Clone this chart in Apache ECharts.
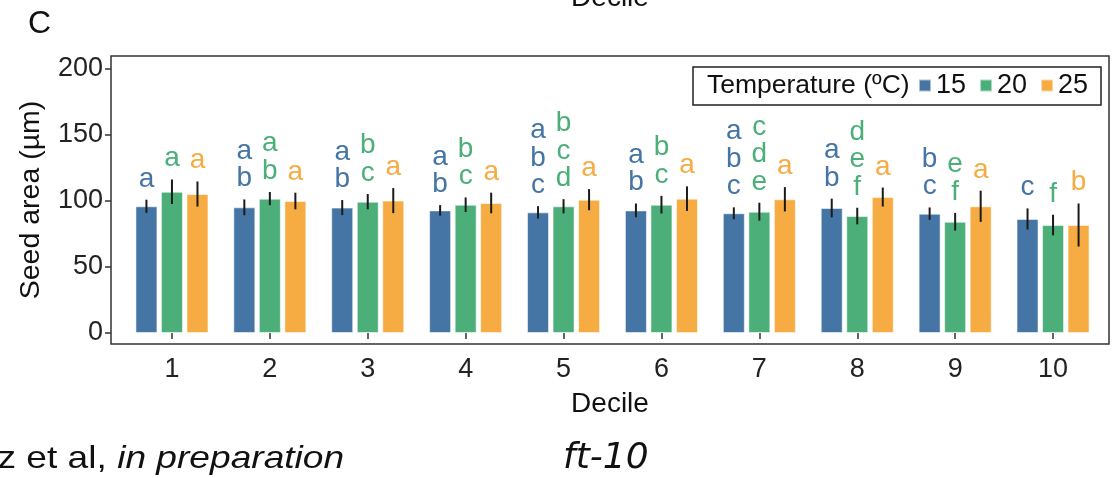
<!DOCTYPE html>
<html>
<head>
<meta charset="utf-8">
<script src="https://cdn.jsdelivr.net/npm/echarts@6/dist/echarts.min.js"></script>
<style>html,body{margin:0;padding:0;background:#fff;}#c{width:1116px;height:478px;}</style>
</head>
<body>
<div id="c"></div>
<script>
var categories = ['1','2','3','4','5','6','7','8','9','10'];
var yTicks = [0, 50, 100, 150, 200];
var mean15 = [96, 95.2, 95, 92.9, 91.4, 92.9, 90.7, 94.7, 90.4, 86.4];
var err15  = [5, 6, 5.7, 4, 4.7, 5.2, 4.5, 7.1, 4.7, 8];
var mean20 = [107, 101.8, 99.5, 97.2, 96, 97.2, 91.9, 88.6, 84.3, 81.8];
var err20  = [9.3, 5, 5.8, 5.5, 5.4, 6.7, 6.8, 6.3, 6.7, 7.8];
var mean25 = [105.3, 100, 100.3, 98.5, 101, 101.8, 101.3, 103, 96, 81.8];
var err25  = [9.5, 6.3, 9.5, 7.8, 8, 9.3, 9.2, 7.2, 11.8, 16.3];
var letters15 = ['a','ab','ab','ab','abc','ab','abc','ab','bc','c'];
var letters20 = ['a','ab','bc','bc','bcd','bc','cde','def','ef','f'];
var letters25 = ['a','a','a','a','a','a','a','a','a','b'];
var seriesNames = ['15','20','25'];
var colors = ['#4575a5', '#4caf7a', '#f6ac42'];

var FONT = '"Liberation Sans", Arial, sans-serif';
var BAR_W = 22, GAP = 0.16;
var step = BAR_W * (1 + GAP);
var offsets = [-step, 0, step];

function errData(m, e) {
  return m.map(function (v, i) { return [i, v + e[i], v - e[i]]; });
}
function makeRender(offset, letters, color) {
  return function (params, api) {
    var idx = api.value(0);
    var hi = api.coord([idx, api.value(1)]);
    var lo = api.coord([idx, api.value(2)]);
    var x = hi[0] + offset;
    var txt = letters[idx].split('').join('\n');
    return {
      type: 'group',
      children: [
        { type: 'line', shape: { x1: x, y1: hi[1], x2: x, y2: lo[1] },
          style: { stroke: '#1a1a1a', lineWidth: 2 } },
        { type: 'text', x: x, y: hi[1] - 7,
          style: { text: txt, fill: color, font: '28px ' + FONT, align: 'center',
                   verticalAlign: 'bottom', lineHeight: 27.5 } }
      ]
    };
  };
}

var means = [mean15, mean20, mean25];
var errs = [err15, err20, err25];
var lets = [letters15, letters20, letters25];
var series = [];
for (var s = 0; s < 3; s++) {
  series.push({
    name: seriesNames[s], type: 'bar', data: means[s],
    barWidth: BAR_W, barGap: (GAP * 100) + '%',
    itemStyle: { color: colors[s], borderColor: 'rgba(255,255,255,0.55)', borderWidth: 1 },
    z: 2
  });
}
for (var s2 = 0; s2 < 3; s2++) {
  series.push({
    name: 'err' + seriesNames[s2], type: 'custom',
    renderItem: makeRender(offsets[s2], lets[s2], colors[s2]),
    data: errData(means[s2], errs[s2]),
    encode: { x: 0, y: [1, 2] }, z: 5, silent: true
  });
}

var chart = echarts.init(document.getElementById('c'), null, { renderer: 'canvas' });
chart.setOption({
  animation: false,
  backgroundColor: '#ffffff',
  textStyle: { fontFamily: FONT },
  grid: { left: 123, right: 14, top: 56, bottom: 134 },
  xAxis: {
    type: 'category', data: categories,
    axisLine: { show: false },
    axisTick: { show: true, alignWithLabel: true, length: 6, lineStyle: { color: '#333', width: 1.5 } },
    axisLabel: { fontSize: 27, color: '#222', margin: 12, fontFamily: FONT }
  },
  yAxis: {
    type: 'value', min: -8.33, max: 209.85, offset: 12,
    splitLine: { show: false },
    axisLine: { show: false },
    axisTick: { show: true, length: 6, lineStyle: { color: '#333', width: 1.5 }, customValues: yTicks },
    axisLabel: { fontSize: 27, color: '#222', margin: 8, fontFamily: FONT, customValues: yTicks }
  },
  legend: {
    data: seriesNames, left: 918, top: 72, padding: 0,
    icon: 'rect', itemWidth: 12, itemHeight: 12, itemGap: 13,
    textStyle: { fontSize: 27, color: '#111', fontFamily: FONT }
  },
  graphic: [
    { type: 'rect', shape: { x: 111, y: 56, width: 998, height: 288 },
      style: { fill: 'none', stroke: '#333', lineWidth: 1.5 }, z: 1 },
    { type: 'rect', shape: { x: 693, y: 67, width: 408, height: 38 },
      style: { fill: '#fff', stroke: '#222', lineWidth: 1.5 }, z: 1 },
    { type: 'text', x: 707, y: 86,
      style: { text: 'Temperature (ºC)', font: '26.5px ' + FONT, fill: '#111', verticalAlign: 'middle' }, z: 3 },
    { type: 'text', x: 28, y: 8,
      style: { text: 'C', font: '32px ' + FONT, fill: '#111' } },
    { type: 'text', x: 610, y: 12,
      style: { text: 'Decile', font: '28px ' + FONT, fill: '#111', align: 'center', verticalAlign: 'bottom' } },
    { type: 'text', x: 31, y: 200, rotation: Math.PI / 2,
      style: { text: 'Seed area (µm)', font: '28.5px ' + FONT, fill: '#111', align: 'center', verticalAlign: 'middle' } },
    { type: 'text', x: 610, y: 404,
      style: { text: 'Decile', font: '28px ' + FONT, fill: '#111', align: 'center', verticalAlign: 'middle' } },
    { type: 'text', x: -3, y: 475.5, scaleX: 1.16, originX: -3,
      style: { text: '{n|z et al, }{i|in preparation}', verticalAlign: 'bottom', fill: '#111',
        rich: { n: { font: '32px ' + FONT, fill: '#111' },
                i: { font: 'italic 32px ' + FONT, fill: '#111' } } } },
    { type: 'text', x: 563, y: 477,
      style: { text: 'ft-10', font: 'italic 36px "DejaVu Sans", sans-serif', fill: '#111', verticalAlign: 'bottom' } }
  ],
  series: series
});
</script>
</body>
</html>
